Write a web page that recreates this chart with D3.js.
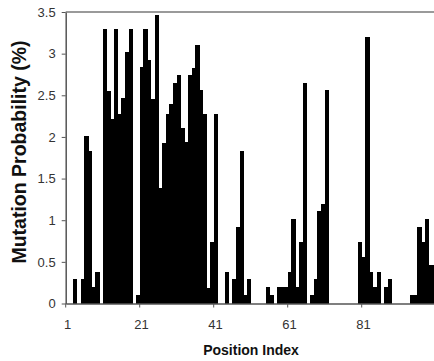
<!DOCTYPE html>
<html>
<head>
<meta charset="utf-8">
<script src="https://cdn.jsdelivr.net/npm/d3@7"></script>
<style>
  body { margin: 0; background: #fff; }
  svg { display: block; font-family: Arial, "Liberation Sans", sans-serif; }
</style>
</head>
<body>
<div id="chart"></div>
<script>
const WIDTH  = 434;
const HEIGHT = 361;
const PLOT_LEFT   = 65.7;
const PLOT_TOP    = 12;
const PLOT_BOTTOM = 303.5;
const STEP        = 3.7;

// position index 1..100
var positions = d3.range(1, 101);

// mutation probability (%) per position
var probability = [
    0, 0, 0.29, 0, 0.29, 2.01, 1.83, 0.2, 0.38, 0,
    3.29, 2.55, 2.21, 3.29, 2.28, 2.47, 3.02, 3.29, 0, 0.1,
    2.84, 3.29, 2.92, 2.46, 3.46, 1.39, 1.93, 2.28, 2.39, 2.65,
    2.74, 2.11, 1.94, 2.74, 2.83, 3.1, 2.56, 2.28, 0.19, 0.74,
    2.28, 0, 0, 0.38, 0, 0.29, 0.92, 1.83, 0.1, 0.29,
    0, 0, 0, 0, 0.2, 0.1, 0, 0.2, 0.2, 0.2,
    0.38, 1.02, 0.2, 0.74, 2.65, 0, 0.1, 0.29, 1.11, 1.2,
    2.56, 0, 0, 0, 0, 0, 0, 0, 0, 0.74,
    0.56, 3.2, 0.38, 0.2, 0.38, 0, 0.2, 0.29, 0, 0,
    0, 0, 0, 0.1, 0.1, 0.92, 0.74, 1.01, 0.46, 0.46
];

var xTickLabels = [1, 21, 41, 61, 81];
var yTicks = [0, 0.5, 1, 1.5, 2, 2.5, 3, 3.5];

var data = positions.map(function(p, i) { return { pos: p, value: probability[i] }; });

var svg = d3.select("#chart")
    .append("svg")
    .attr("width", WIDTH)
    .attr("height", HEIGHT);

svg.append("rect")
   .attr("width", WIDTH)
   .attr("height", HEIGHT)
   .attr("fill", "#fff");

var xScale = d3.scaleBand()
    .domain(positions)
    .range([PLOT_LEFT, PLOT_LEFT + positions.length * STEP])
    .padding(0);

var yScale = d3.scaleLinear()
    .domain([0, 3.5])
    .range([PLOT_BOTTOM, PLOT_TOP]);

// top border of plot area
svg.append("line")
   .attr("x1", PLOT_LEFT)
   .attr("x2", WIDTH)
   .attr("y1", PLOT_TOP)
   .attr("y2", PLOT_TOP)
   .attr("stroke", "#9a9a9a")
   .attr("stroke-width", 2);

// bars (slight overlap so neighbours merge into solid blocks)
svg.append("g")
   .attr("shape-rendering", "crispEdges")
   .selectAll("rect")
   .data(data)
   .enter()
   .append("rect")
   .attr("x", function(d) { return xScale(d.pos); })
   .attr("y", function(d) { return yScale(d.value); })
   .attr("width", xScale.bandwidth() + 0.6)
   .attr("height", function(d) { return PLOT_BOTTOM - yScale(d.value); })
   .attr("fill", "#000");

// y axis
var yAxis = d3.axisLeft(yScale)
    .tickValues(yTicks)
    .tickSize(4)
    .tickSizeOuter(0)
    .tickPadding(6)
    .tickFormat(function(d) { return String(d); });

var gy = svg.append("g")
   .attr("transform", "translate(" + PLOT_LEFT + ",0)")
   .call(yAxis);
gy.select(".domain").attr("stroke", "#555").attr("stroke-width", 1.5);
gy.selectAll(".tick line").attr("stroke", "#555");
gy.selectAll(".tick text")
  .attr("fill", "#333")
  .style("font-size", "13px");

// x axis: labels under category centers, tick marks between categories
var xAxis = d3.axisBottom(xScale)
    .tickValues(xTickLabels)
    .tickSize(4)
    .tickSizeOuter(0)
    .tickPadding(12);

var gx = svg.append("g")
   .attr("transform", "translate(0," + PLOT_BOTTOM + ")")
   .call(xAxis);
gx.select(".domain").attr("stroke", "#555").attr("stroke-width", 1.5);
gx.selectAll(".tick line")
  .attr("stroke", "#555")
  .attr("x1", -xScale.bandwidth() / 2)
  .attr("x2", -xScale.bandwidth() / 2);
gx.selectAll(".tick text")
  .attr("fill", "#333")
  .style("font-size", "13px");

// axis titles
svg.append("text")
   .attr("x", 251)
   .attr("y", 355)
   .attr("text-anchor", "middle")
   .style("font-size", "14px")
   .style("font-weight", "bold")
   .attr("fill", "#111")
   .text("Position Index");

svg.append("text")
   .attr("transform", "translate(26,152) rotate(-90)")
   .attr("text-anchor", "middle")
   .style("font-size", "19.5px")
   .style("font-weight", "bold")
   .attr("fill", "#111")
   .text("Mutation Probability (%)");
</script>
</body>
</html>
